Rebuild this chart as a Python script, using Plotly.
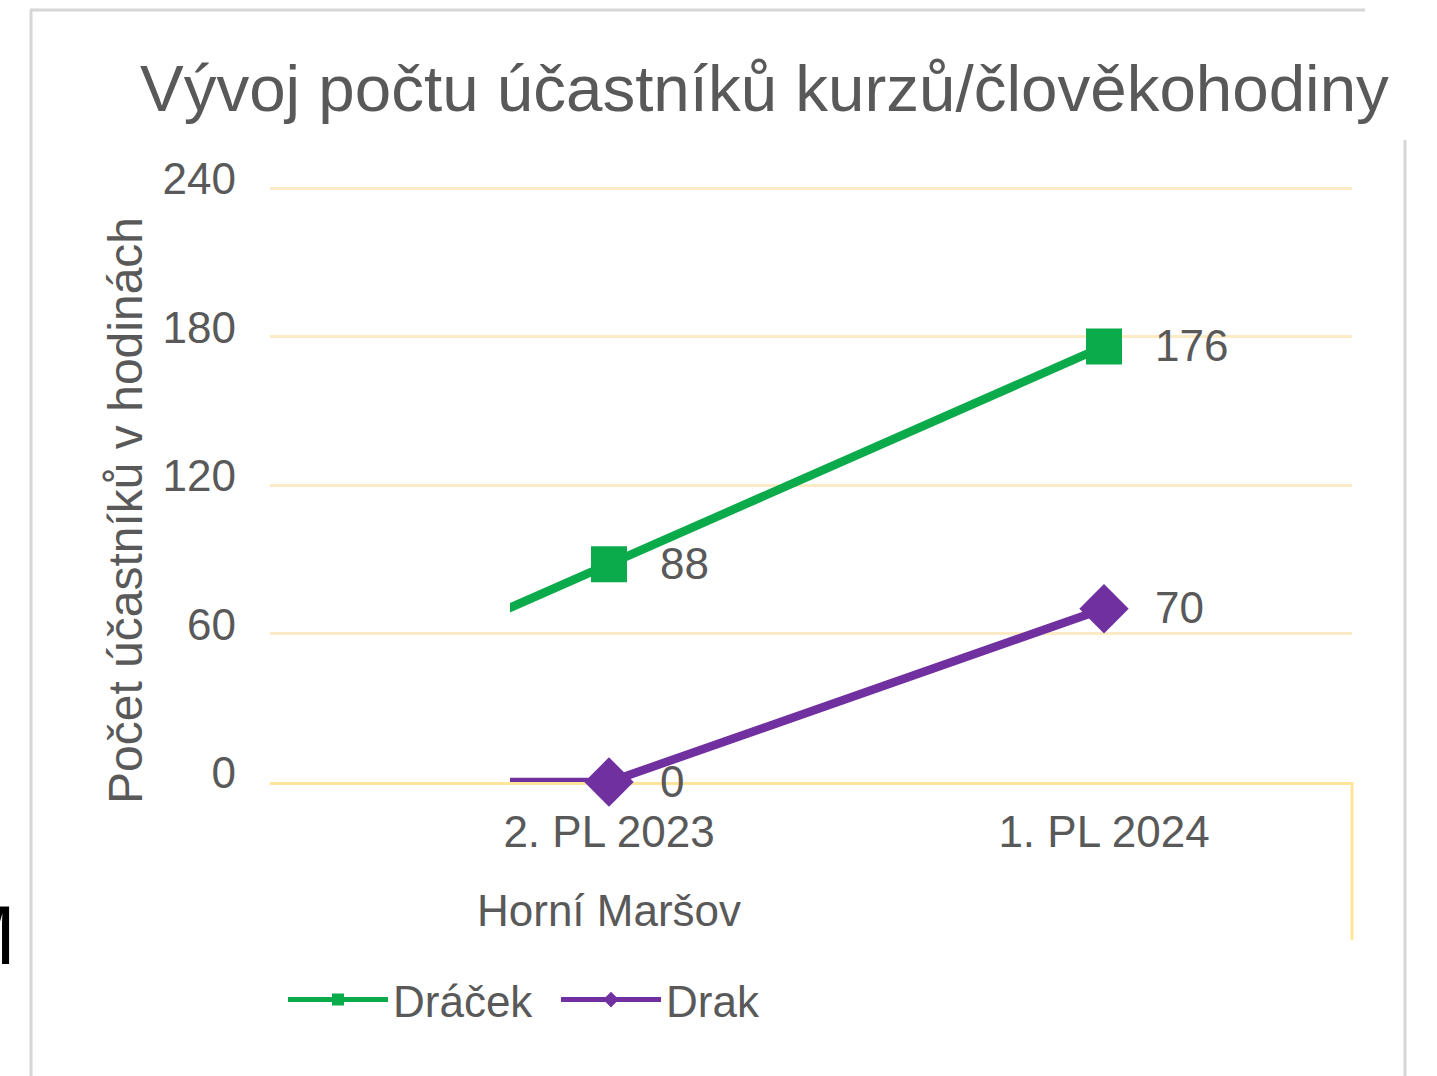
import plotly.graph_objects as go

# ---- data ----
categories = ["1. PL 2023", "2. PL 2023", "1. PL 2024"]   # first one is hidden (clipped) in the picture
cat_pos = [0, 1, 2]
dracek = [0, 88, 176]
drak = [0, 0, 70]
group_label = "Horní Maršov"
y_ticks = [0, 60, 120, 180, 240]
y_title = "Počet účastníků v hodinách"
chart_title = "Vývoj počtu účastníků kurzů/člověkohodiny"

W, H = 1437, 1076
FONT = "Liberation Sans, Arial, Helvetica, sans-serif"
GREY = "#595959"
GREEN = "#0BAA4B"
PURPLE = "#7030A0"
GRID = "#FDEBC6"
AXIS = "#FFE59A"

def px(x):
    return x / W

def py(y):
    return 1 - y / H

# plot area in pixels
L, R, T, B = 270, 1352, 188, 782
YMAX = 241
scale = (B - T) / 240.0
T_ext = B - YMAX * scale
CLIP_L = 510
c1, c2 = 609, 1104  # pixel centres of categories 1 and 2
unit = c2 - c1
xr_main = [1 + (L - c1) / unit, 1 + (R - c1) / unit]
xr_clip = [1 + (CLIP_L - c1) / unit, 1 + (R - c1) / unit]

fig = go.Figure()

# empty trace so the main subplot (grid, ticks) is drawn
fig.add_trace(go.Scatter(x=[], y=[], xaxis="x", yaxis="y", showlegend=False, hoverinfo="skip"))

series = [("Dráček", dracek, GREEN, "square", 36), ("Drak", drak, PURPLE, "diamond", 38)]
for name, vals, col, sym, sz in series:
    sizes = [0] + [sz] * (len(vals) - 1)
    fig.add_trace(go.Scatter(
        x=cat_pos, y=vals, name=name, mode="lines+markers",
        line=dict(color=col, width=8.5),
        marker=dict(symbol=sym, size=sizes, color=col, opacity=1, line=dict(width=0)),
        cliponaxis=False, xaxis="x2", yaxis="y2",
    ))
    for xv, yv in zip(cat_pos[1:], vals[1:]):
        fig.add_annotation(x=xv, y=yv, xref="x2", yref="y2", text=str(yv),
                           showarrow=False, xanchor="left", yanchor="middle", xshift=49,
                           yshift=1, font=dict(size=44, color=GREY, family=FONT))

fig.update_layout(
    template="none",
    width=W, height=H, autosize=False,
    margin=dict(l=0, r=0, t=0, b=0, pad=0, autoexpand=False),
    paper_bgcolor="white", plot_bgcolor="rgba(0,0,0,0)",
    font=dict(family=FONT, color=GREY, size=44),
    title=dict(text=chart_title, x=px(140), xanchor="left",
               y=py(88), yanchor="middle", font=dict(size=65.5, color=GREY, family=FONT)),
    xaxis=dict(domain=[px(L), px(R)], range=xr_main, tickvals=cat_pos, ticktext=categories,
               showgrid=False, zeroline=False, showline=True, linecolor=AXIS, linewidth=3,
               ticks="", ticklabelstandoff=9, tickfont=dict(size=44, color=GREY), anchor="y",
               automargin=False),
    yaxis=dict(domain=[py(B), py(T_ext)], range=[0, YMAX], tickvals=y_ticks,
               showgrid=True, gridcolor=GRID, gridwidth=2.5, zeroline=False, showline=False,
               ticks="", ticklabelstandoff=33, ticklabelshift=-9, tickfont=dict(size=44, color=GREY),
               anchor="x", automargin=False),
    xaxis2=dict(domain=[px(CLIP_L), px(R)], range=xr_clip, visible=False, anchor="y2",
                fixedrange=True, automargin=False),
    yaxis2=dict(domain=[py(B), py(T_ext)], range=[0, YMAX], visible=False, anchor="x2",
                fixedrange=True, automargin=False),
    legend=dict(orientation="h", x=px(283), xanchor="left", y=py(1000), yanchor="middle",
                font=dict(size=44, color=GREY, family=FONT), bgcolor="rgba(0,0,0,0)",
                itemsizing="constant", itemwidth=100, tracegroupgap=0,
                entrywidth=158, entrywidthmode="pixels"),
    showlegend=True,
)

# y-axis title (placed like in the reference, slightly below the plot centre)
fig.add_annotation(x=px(125), y=py(511), xref="paper", yref="paper", text=y_title, showarrow=False,
                   textangle=-90, xanchor="center", yanchor="middle",
                   font=dict(size=48, color=GREY, family=FONT))

# group label under the category axis
fig.add_annotation(x=1, y=py(910), xref="x", yref="paper", text=group_label, showarrow=False,
                   xanchor="center", yanchor="middle", font=dict(size=44, color=GREY, family=FONT))

# category separator line at right end of axis
fig.add_shape(type="line", xref="paper", yref="paper", x0=px(R), x1=px(R), y0=py(B), y1=py(940),
              line=dict(color=AXIS, width=3))

# outer frame of the chart picture
frame = "#D6D6D6"
fig.add_shape(type="line", xref="paper", yref="paper", x0=px(30), x1=px(1365), y0=py(10), y1=py(10),
              line=dict(color=frame, width=3))
fig.add_shape(type="line", xref="paper", yref="paper", x0=px(31), x1=px(31), y0=py(10), y1=0,
              line=dict(color=frame, width=3))
fig.add_shape(type="line", xref="paper", yref="paper", x0=px(1405), x1=px(1405), y0=py(140), y1=0,
              line=dict(color=frame, width=3))

# cut-off letter at the left edge of the picture
fig.add_annotation(x=px(18), y=py(935), xref="paper", yref="paper", text="M", showarrow=False,
                   xanchor="right", yanchor="middle",
                   font=dict(size=84, color="black", family="Liberation Sans Narrow, Liberation Sans, Arial"))

fig.write_html("out.html", config={"displayModeBar": False},
               post_script="document.body.style.margin='0px';")
